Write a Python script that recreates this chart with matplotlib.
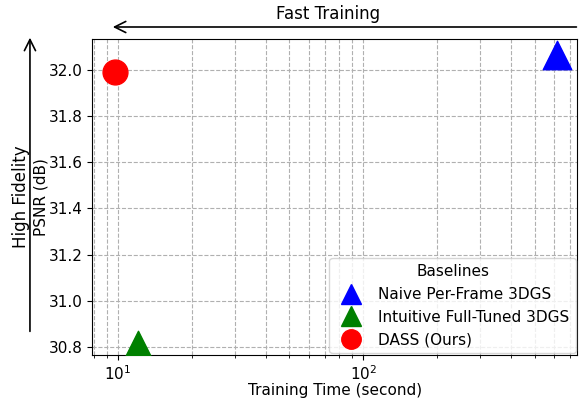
import numpy as np
import matplotlib.pyplot as plt
from matplotlib.lines import Line2D

methods = ['Naive Per-Frame 3DGS', 'Intuitive Full-Tuned 3DGS', 'DASS (Ours)']
train_time = [620, 12, 9.7]
psnr = [32.065, 30.81, 31.99]
colors = ['blue', 'green', 'red']
markers = ['^', '^', 'o']
sizes = [420, 420, 320]

fig, ax = plt.subplots(figsize=(5.79, 3.98), dpi=100)
for m, t, p, c, mk, s in zip(methods, train_time, psnr, colors, markers, sizes):
    ax.scatter(t, p, color=c, marker=mk, s=s, label=m, zorder=3)

ax.set_xscale('log')
ax.set_xlim(7.83, 747)
ax.set_ylim(30.765, 32.134)
ax.set_yticks([30.8, 31.0, 31.2, 31.4, 31.6, 31.8, 32.0])
ax.tick_params(labelsize=11)
ax.set_xlabel('Training Time (second)', fontsize=11, labelpad=0)
ax.set_ylabel('PSNR (dB)', fontsize=11, labelpad=0)
ax.grid(True, which='both', linestyle='--', color='#b0b0b0', linewidth=0.8)

handles = [Line2D([], [], linestyle='none', marker=mk, color=c, markersize=14)
           for mk, c in zip(markers, colors)]
ax.legend(handles, methods, title='Baselines', loc='lower right', fontsize=11,
          title_fontsize=11, borderaxespad=0.1)

ax.annotate('', xy=(0.037, 1.038), xytext=(1.004, 1.038), xycoords='axes fraction',
            arrowprops=dict(arrowstyle='->', lw=1.2, mutation_scale=20), annotation_clip=False)
ax.text(0.487, 1.08, 'Fast Training', transform=ax.transAxes, ha='center', va='center', fontsize=12)
ax.annotate('', xy=(-0.128, 1.013), xytext=(-0.128, 0.066), xycoords='axes fraction',
            arrowprops=dict(arrowstyle='->', lw=1.2, mutation_scale=20), annotation_clip=False)
ax.text(-0.146, 0.5, 'High Fidelity', transform=ax.transAxes, ha='center', va='center',
        rotation=90, fontsize=12)

plt.subplots_adjust(left=0.159, right=0.997, top=0.902, bottom=0.108)
plt.savefig('out.png')
